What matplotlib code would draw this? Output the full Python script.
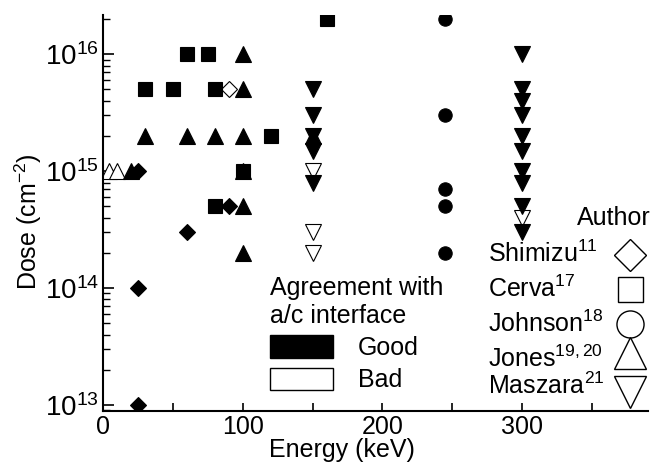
import matplotlib
matplotlib.use('Agg')
import matplotlib.pyplot as plt
from matplotlib.lines import Line2D
from matplotlib.patches import Patch
from matplotlib.ticker import MultipleLocator, FuncFormatter, LogLocator

plt.rcParams['font.family'] = ['Liberation Sans', 'DejaVu Sans']
plt.rcParams['mathtext.fontset'] = 'custom'
plt.rcParams['mathtext.rm'] = 'Liberation Sans'
plt.rcParams['mathtext.it'] = 'Liberation Sans:italic'
plt.rcParams['mathtext.default'] = 'regular'

# energy (keV) and dose (cm^-2), split by author and agreement
shimizu_good_e = [25, 25, 25, 60, 90]
shimizu_good_d = [1e15, 1e14, 1e13, 3e14, 5e14]
shimizu_bad_e = [90]
shimizu_bad_d = [5e15]

cerva_good_e = [30, 50, 80, 60, 75, 120, 160, 80, 100]
cerva_good_d = [5e15, 5e15, 5e15, 1e16, 1e16, 2e15, 2e16, 5e14, 1e15]

johnson_good_e = [245, 245, 245, 245, 245]
johnson_good_d = [2e16, 3e15, 7e14, 5e14, 2e14]

jones_good_e = [20, 30, 60, 80, 100, 100, 100, 100, 100, 100, 150]
jones_good_d = [1e15, 2e15, 2e15, 2e15, 2e15, 1e16, 5e15, 1e15, 5e14, 2e14, 2e15]
jones_bad_e = [4, 10]
jones_bad_d = [1e15, 1e15]

maszara_good_e = [150, 150, 150, 150, 150,
                  300, 300, 300, 300, 300, 300, 300, 300, 300, 300]
maszara_good_d = [5e15, 3e15, 2e15, 1.5e15, 8e14,
                  1e16, 5e15, 4e15, 3e15, 2e15, 1.5e15, 1e15, 8e14, 5e14, 3e14]
maszara_bad_e = [150, 150, 150, 300]
maszara_bad_d = [1e15, 3e14, 2e14, 4e14]

authors = ['Shimizu$^{11}$', 'Cerva$^{17}$', 'Johnson$^{18}$',
           'Jones$^{19,20}$', 'Maszara$^{21}$']
author_marks = ['D', 's', 'o', '^', 'v']
author_ms = [16.5, 18, 19.5, 23, 23]

fig = plt.figure(figsize=(6.51, 4.66), dpi=100)
ax = fig.add_axes([103/651, 1-410.7/466, 545/651, 395.7/466])

def pts(e, d, marker, ms, filled=True):
    ax.plot(e, d, ls='none', marker=marker, ms=ms,
            mfc='black' if filled else 'white', mec='black',
            mew=0.8, zorder=3 if filled else 2)

pts(cerva_good_e, cerva_good_d, 's', 9.4)
pts(johnson_good_e, johnson_good_d, 'o', 9.6)
pts(shimizu_good_e, shimizu_good_d, 'D', 7.9)
pts(shimizu_bad_e, shimizu_bad_d, 'D', 7.9, False)
pts(jones_good_e, jones_good_d, '^', 11.3)
pts(jones_bad_e, jones_bad_d, '^', 11.3, False)
pts(maszara_bad_e, maszara_bad_d, 'v', 12, False)
pts(maszara_good_e, maszara_good_d, 'v', 12)

ax.set_yscale('log')
ax.set_xlim(0, 390)
ax.set_ylim(10**12.951, 10**16.336)

ax.spines['top'].set_visible(False)
ax.spines['right'].set_visible(False)
for s in ['left', 'bottom']:
    ax.spines[s].set_linewidth(1.5)

ax.xaxis.set_major_locator(MultipleLocator(50))
ax.xaxis.set_major_formatter(FuncFormatter(lambda v, p: '%d' % v if v % 100 == 0 else ''))
ax.yaxis.set_major_locator(LogLocator(base=10))
ax.yaxis.set_minor_locator(LogLocator(base=10, subs=range(2, 10)))
ax.yaxis.set_minor_formatter(FuncFormatter(lambda v, p: ''))

ax.tick_params(axis='x', direction='in', length=6, width=1.2, labelsize=18, pad=3)
ax.tick_params(axis='y', which='major', direction='in', length=8, width=1.2, labelsize=20, pad=3)
ax.tick_params(axis='y', which='minor', direction='in', length=5, width=1.0)

ax.set_xlabel('Energy (keV)', fontsize=18)
ax.xaxis.set_label_coords(0.4385, -0.07)
ax.set_ylabel('Dose (cm$^{-2}$)', fontsize=18)
ax.yaxis.set_label_coords(-0.108, 0.479)

# legend: agreement with a/c interface
agree = ax.legend([Patch(facecolor='black', edgecolor='black'),
                   Patch(facecolor='white', edgecolor='black')],
                  ['Good', 'Bad'], title='Agreement with\na/c interface',
                  alignment='left', frameon=False, fontsize=18, title_fontsize=18,
                  handlelength=2.5, handleheight=1.0, handletextpad=1.0,
                  borderpad=0, labelspacing=0.3, borderaxespad=0,
                  loc='upper left', bbox_to_anchor=(270/651, 1-276/466),
                  bbox_transform=fig.transFigure)

# author key: names on the left, open symbols on the right
fig.text(577/651, 1-225/466, 'Author', fontsize=18, va='baseline')
name_y = [262, 297, 332, 367, 394]
mark_y = [255, 289, 324, 353, 392]
for name, ny, my, mk, ms in zip(authors, name_y, mark_y, author_marks, author_ms):
    fig.text(488/651, 1-ny/466, name, fontsize=18, va='baseline')
    fig.add_artist(Line2D([630/651], [1-my/466], transform=fig.transFigure,
                          ls='none', marker=mk, ms=ms, mfc='white',
                          mec='black', mew=1.0))

fig.savefig('out.png', dpi=100)
